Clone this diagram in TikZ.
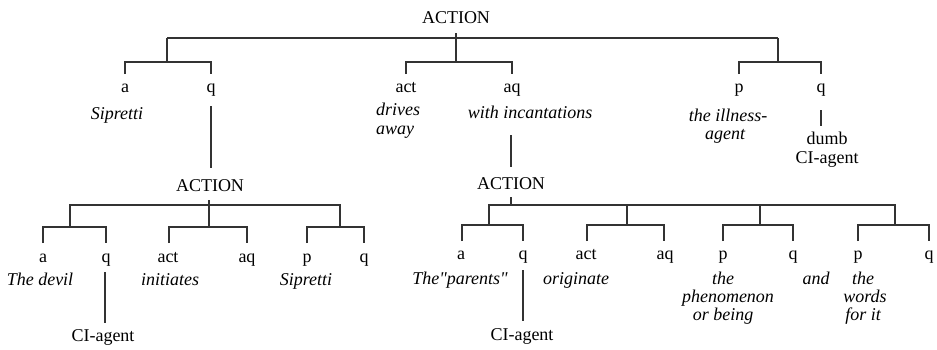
\documentclass[tikz,border=0pt]{standalone}
\usepackage{fontspec}
\setmainfont{Liberation Serif}
\newfontfamily\nqfont{Liberation Serif}[Ligatures=TeXOff]
\begin{document}
\begin{tikzpicture}[x=1pt,y=-1pt,
  lbl/.style={anchor=base,inner sep=0pt,font=\fontsize{18}{20}\selectfont},
  itl/.style={anchor=base,inner sep=0pt,font=\fontsize{18}{20}\selectfont\itshape},
  itleft/.style={anchor=base west,inner sep=0pt,font=\fontsize{18}{20}\selectfont\itshape},
  br/.style={line width=1.1pt,draw=black!80}]
\useasboundingbox (0,0) rectangle (937,349);

% ---------- top level ----------
\node[lbl] (A0) at (456,23) {ACTION};
\node[lbl] (ta)   at (125,92) {a};
\node[lbl] (tq)   at (211,92) {q};
\node[lbl] (tact) at (406,92) {act};
\node[lbl] (taq)  at (512,92) {aq};
\node[lbl] (tp)   at (739,92) {p};
\node[lbl] (tq2)  at (821,92) {q};
\node[itl] (tsip) at (117,119) {Sipretti};
\node[itleft] (tdrv) at (376,115) {drives};
\node[itleft] (taway) at (376,134) {away};
\node[itl] (tinc) at (530,118) {with incantations};
\node[itl] (till) at (728,121) {the illness-};
\node[itl] (tagt) at (725,139) {agent};
\node[lbl] (tdumb) at (827,144) {dumb};
\node[lbl] (tci) at (827,163) {CI-agent};

\coordinate (a0t) at (456,33);
\coordinate (a0m) at (456,62);
\coordinate (hL) at (167,38);
\coordinate (hR) at (778,38);
\draw[br] (a0t) -- (a0m);
\draw[br] (hL) -- (hR);
\draw[br] (hL) -- (167,62);
\draw[br] (hR) -- (778,62);
\draw[br] (125,74) |- (211,62) -- (211,74);
\draw[br] (406,74) |- (512,62) -- (512,74);
\draw[br] (739,74) |- (821,62) -- (821,74);
\coordinate (tqd1) at (211,106);
\coordinate (tqd2) at (211,168);
\draw[br] (tqd1) -- (tqd2);
\coordinate (taqd1) at (511,135);
\coordinate (taqd2) at (511,167);
\draw[br] (taqd1) -- (taqd2);
\coordinate (tq2d1) at (821,110);
\coordinate (tq2d2) at (821,126);
\draw[br] (tq2d1) -- (tq2d2);

% ---------- lower left ----------
\node[lbl] (A1) at (210,191) {ACTION};
\node[lbl] (la)   at (43,262) {a};
\node[lbl] (lq)   at (106,262) {q};
\node[lbl] (lact) at (168,262) {act};
\node[lbl] (laq)  at (247,262) {aq};
\node[lbl] (lp)   at (307,262) {p};
\node[lbl] (lq2)  at (364,262) {q};
\node[itl] (ldev) at (40,285) {The devil};
\node[itl] (lini) at (170,285) {initiates};
\node[itl] (lsip) at (306,285) {Sipretti};
\node[lbl] (lci)  at (103,341) {CI-agent};

\draw[br] (209,200) -- (209,227);
\draw[br] (70,227) |- (340,205) -- (340,227);
\draw[br] (43,243) |- (106,227) -- (106,243);
\draw[br] (169,243) |- (247,227) -- (247,243);
\draw[br] (307,243) |- (364,227) -- (364,243);
\coordinate (lqd1) at (105,272);
\coordinate (lqd2) at (105,323);
\draw[br] (lqd1) -- (lqd2);

% ---------- lower right ----------
\node[lbl] (A2) at (511,189) {ACTION};
\node[lbl] (ra)   at (461,259) {a};
\node[lbl] (rq)   at (523,259) {q};
\node[lbl] (ract) at (586,259) {act};
\node[lbl] (raq)  at (665,259) {aq};
\node[lbl] (rp)   at (723,259) {p};
\node[lbl] (rq2)  at (793,259) {q};
\node[lbl] (rp2)  at (858,259) {p};
\node[lbl] (rq3)  at (929,259) {q};
\node[itl,font=\fontsize{18}{20}\selectfont\nqfont\itshape] (rpar) at (460,284) {The"parents"};
\node[itl] (rori) at (576,284) {originate};
\node[itl] (rthe) at (723,284) {the};
\node[itl] (rphe) at (728,302) {phenomenon};
\node[itl] (rorb) at (723,320) {or being};
\node[itl] (rand) at (816,284) {and};
\node[itl] (rthe2) at (863,284) {the};
\node[itl] (rwor) at (865,302) {words};
\node[itl] (rfor) at (863,320) {for it};
\node[lbl] (rci)  at (522,340) {CI-agent};

\draw[br] (511,197) -- (511,205);
\draw[br] (489,225) |- (895,205) -- (895,225);
\draw[br] (627,205) -- (627,225);
\draw[br] (760,205) -- (760,225);
\draw[br] (462,241) |- (523,225) -- (523,241);
\draw[br] (587,241) |- (664,225) -- (664,241);
\draw[br] (723,241) |- (793,225) -- (793,241);
\draw[br] (858,241) |- (929,225) -- (929,241);
\coordinate (rqd1) at (523,270);
\coordinate (rqd2) at (523,321);
\draw[br] (rqd1) -- (rqd2);
\end{tikzpicture}
\end{document}
